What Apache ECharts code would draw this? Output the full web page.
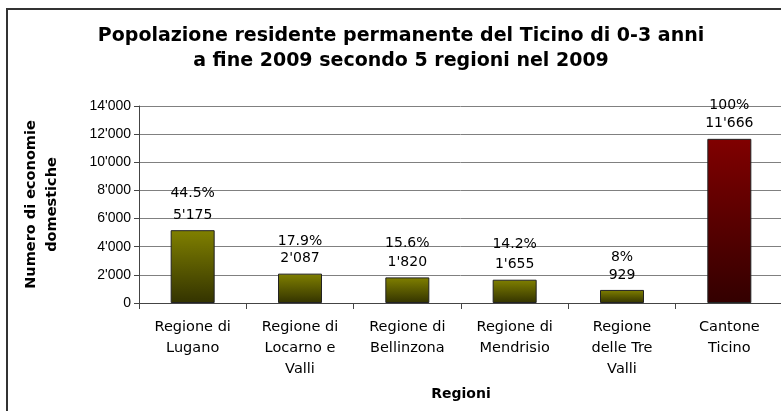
<!DOCTYPE html>
<html>
<head>
<meta charset="utf-8">
<script src="https://cdn.jsdelivr.net/npm/echarts@6/dist/echarts.min.js"></script>
<style>
  html, body { margin: 0; padding: 0; background: #fff; }
  #chart { width: 781px; height: 411px; }
</style>
</head>
<body>
<div id="chart"></div>
<script>
  // dati
  let regioni = ['Regione di\nLugano', 'Regione di\nLocarno e\nValli', 'Regione di\nBellinzona', 'Regione di\nMendrisio', 'Regione\ndelle Tre\nValli', 'Cantone\nTicino']
  let valori = [5175, 2087, 1820, 1655, 929, 11666]
  let percentuali = ['44.5%', '17.9%', '15.6%', '14.2%', '8%', '100%']
  let yTicks = [0, 2000, 4000, 6000, 8000, 10000, 12000, 14000]

  // distanza della riga percentuale (solo stile)
  let gapPct = [25, 16, 20, 23, 18, 18]

  function fmt(v) {
    return String(v).replace(/\B(?=(\d{3})+(?!\d))/g, "'")
  }

  let chart = echarts.init(document.getElementById('chart'))

  let seriesData = []
  for (let i = 0; i < valori.length; i++) {
    let top = i === valori.length - 1 ? '#800000' : '#808000'
    let bottom = i === valori.length - 1 ? '#330000' : '#333300'
    seriesData.push({
      value: valori[i],
      itemStyle: {
        color: new echarts.graphic.LinearGradient(0, 0, 0, 1, [
          { offset: 0, color: top },
          { offset: 1, color: bottom }
        ])
      },
      label: {
        formatter: '{p|' + percentuali[i] + '}\n{v|' + fmt(valori[i]) + '}',
        rich: {
          p: { fontSize: 14, color: '#000', lineHeight: gapPct[i], fontFamily: 'DejaVu Sans' },
          v: { fontSize: 14, color: '#000', lineHeight: 18, fontFamily: 'DejaVu Sans' }
        }
      }
    })
  }

  const option = {
    animation: false,
    textStyle: { fontFamily: 'DejaVu Sans' },
    title: {
      text: 'Popolazione residente permanente del Ticino di 0-3 anni\na fine 2009 secondo 5 regioni nel 2009',
      left: 396,
      textAlign: 'center',
      top: 19,
      textStyle: { fontSize: 19, fontWeight: 'bold', color: '#000', lineHeight: 25, fontFamily: 'DejaVu Sans' }
    },
    graphic: [{
      type: 'rect',
      shape: { x: 7, y: 9, width: 900, height: 600 },
      style: { fill: 'none', stroke: '#333', lineWidth: 2 },
      silent: true
    }],
    grid: { left: 139, top: 106, width: 644, bottom: 108, outerBoundsMode: 'none' },
    xAxis: {
      type: 'category',
      data: regioni,
      name: 'Regioni',
      nameLocation: 'middle',
      nameGap: 84,
      nameTextStyle: { fontSize: 14, fontWeight: 'bold', color: '#000' },
      axisLine: { lineStyle: { color: '#444', width: 1 } },
      axisTick: { show: true, length: 6, lineStyle: { color: '#444' } },
      axisLabel: { fontSize: 14.5, color: '#000', lineHeight: 21, margin: 14, interval: 0 }
    },
    yAxis: {
      type: 'value',
      min: yTicks[0],
      max: yTicks[yTicks.length - 1],
      interval: 2000,
      name: 'Numero di economie\ndomestiche',
      nameLocation: 'middle',
      nameRotate: 90,
      nameGap: 76,
      nameTextStyle: { fontSize: 14.5, fontWeight: 'bold', color: '#000', lineHeight: 21 },
      axisLine: { show: true, lineStyle: { color: '#444', width: 1 } },
      axisTick: { show: true, length: 5, lineStyle: { color: '#444' } },
      splitLine: { lineStyle: { color: '#808080', width: 1 } },
      axisLabel: { fontSize: 14, color: '#000', margin: 8, formatter: fmt, fontFamily: 'Liberation Sans' }
    },
    series: [{
      type: 'bar',
      data: seriesData,
      barWidth: 44,
      itemStyle: { borderColor: '#222', borderWidth: 1 },
      label: { show: true, position: 'top', distance: 6, align: 'center' }
    }]
  }
  chart.setOption(option)
</script>
</body>
</html>
